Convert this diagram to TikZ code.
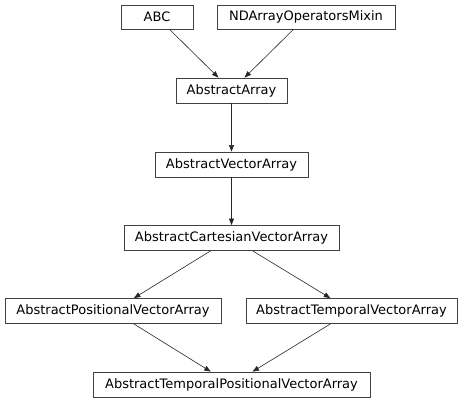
\documentclass[tikz,border=0pt]{standalone}
\usepackage{fontspec}
\setmainfont{DejaVu Sans}
\usetikzlibrary{arrows.meta}
\begin{document}
\begin{tikzpicture}[x=1pt,y=-1pt,
  cls/.style={draw=black!75, line width=0.8pt, minimum height=25pt, inner sep=0pt, font=\fontsize{13}{15}\selectfont, text=black},
  inh/.style={draw=black!85, line width=0.6pt, -{Triangle[length=6.5pt,width=5pt]}}]
\useasboundingbox (0,0) rectangle (463,403);
\node[cls, minimum width=72pt, minimum height=24pt] (abc) at (157,17) {ABC};
\node[cls, minimum width=178pt, minimum height=24pt] (nd) at (306,17) {NDArrayOperatorsMixin};
\node[cls, minimum width=111pt] (aa) at (231.5,90.5) {AbstractArray};
\node[cls, minimum width=153pt] (ava) at (231.5,164.5) {AbstractVectorArray};
\node[cls, minimum width=215pt] (acva) at (231.5,238) {AbstractCartesianVectorArray};
\node[cls, minimum width=216pt] (apva) at (113,311) {AbstractPositionalVectorArray};
\node[cls, minimum width=211pt] (atva) at (351.5,311) {AbstractTemporalVectorArray};
\node[cls, minimum width=277pt] (atpva) at (231.5,384.5) {AbstractTemporalPositionalVectorArray};
\draw[inh] (abc) -- (aa);
\draw[inh] (nd) -- (aa);
\draw[inh] (aa) -- (ava);
\draw[inh] (ava) -- (acva);
\draw[inh] (acva) -- (apva);
\draw[inh] (acva) -- (atva);
\draw[inh] (apva) -- (atpva);
\draw[inh] (atva) -- (atpva);
\end{tikzpicture}
\end{document}
